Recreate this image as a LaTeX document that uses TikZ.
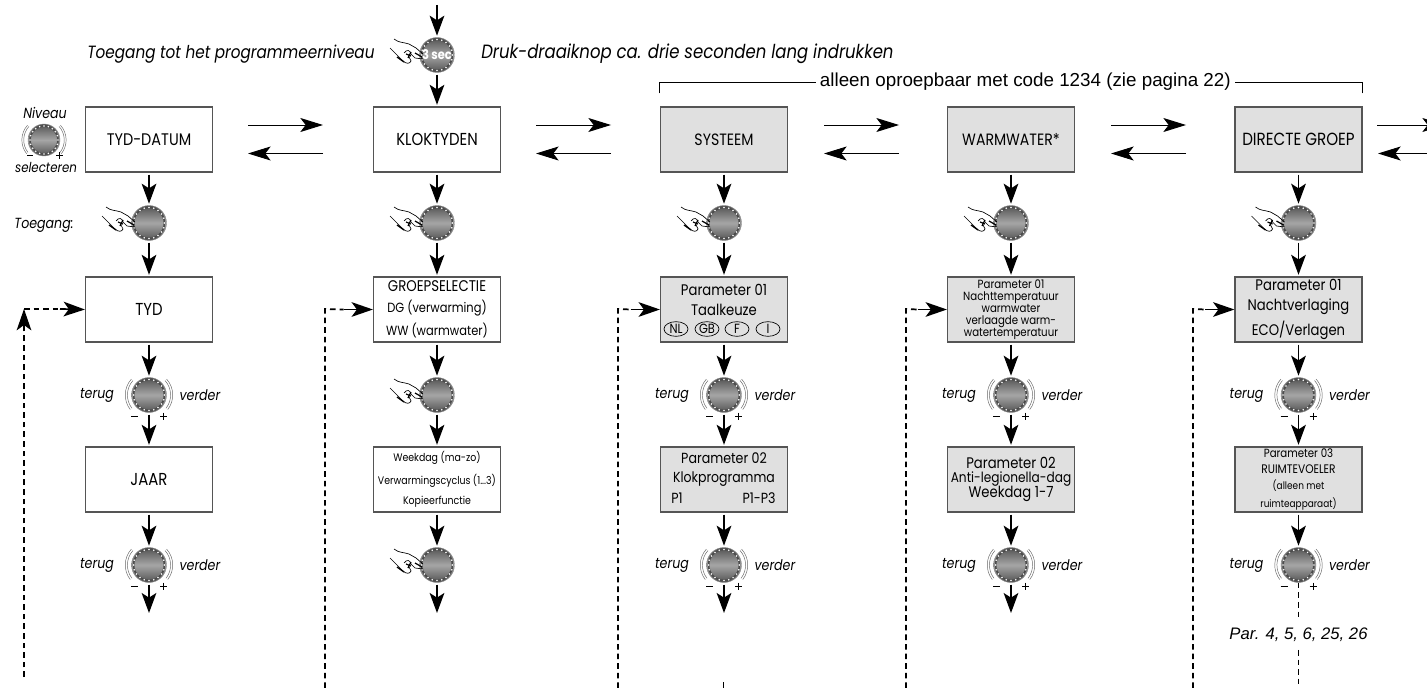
\documentclass[tikz,border=0pt]{standalone}
\usepackage{fontspec}
\setmainfont{Poppins}[FakeStretch=0.86]
\newfontfamily\arial{Liberation Sans}
\usetikzlibrary{arrows.meta,shapes.geometric}
\definecolor{boxgray}{HTML}{E0E0E0}
\definecolor{edgegray}{HTML}{555555}
\newcommand{\fs}[1]{\fontsize{#1}{#1}\selectfont}
\tikzset{
  flowbox/.style={draw=edgegray,line width=.9pt,minimum width=95.25pt,minimum height=48.75pt,inner sep=0pt,align=center,font=\fs{13}},
  greybox/.style={flowbox,fill=boxgray},
  knob/.style={circle,minimum size=26.25pt,inner sep=0pt,shade,top color=black!68,bottom color=black!68,middle color=black!35,draw=black!45,line width=.3pt},
  varrow/.style={line width=1.3pt,-{Stealth[length=15pt,width=11pt,inset=3.5pt]},shorten <=1.5pt,shorten >=1.2pt},
  harrow/.style={line width=.7pt,-{Stealth[length=17pt,width=10.5pt,inset=4pt]}},
  dasharrow/.style={line width=1.3pt,dash pattern=on 4.2pt off 3pt},
  dashhead/.style={line width=1.3pt,-{Stealth[length=16pt,width=11pt,inset=4pt]}},
  lab/.style={inner sep=0pt,font=\fs{11}\itshape},
  pill/.style={ellipse,draw,line width=.5pt,minimum width=18pt,minimum height=11pt,inner sep=0pt,font=\fs{10}},
}
\newcommand{\knobdeco}[2][11.6pt]{%
  \draw[black!70,line width=1.3pt] (#2.center) circle[radius=#1];
  \foreach \a in {0,18,...,342} \fill[white] ([shift={(\a:#1)}]#2.center) circle[radius=.65pt];
}
\newcommand{\hand}[1]{%
  \begin{scope}[shift={(#1.center)},line width=.5pt]
    \draw (-43,-16) .. controls (-38,-12) and (-34,-13) .. (-28,-11) -- (-21,-7) -- (-14,-1);
    \draw (-47,-7) -- (-41,-1) -- (-34,6) .. controls (-31,9) and (-27,9) .. (-26,6) -- (-28,2);
    \draw (-33,-2) .. controls (-30,-6) and (-27,-5) .. (-26,-1) -- (-22,3) -- (-14,4);
    \draw[line width=1pt] (-40,2) -- (-33,7);
    \draw[line width=.9pt] (-31,-1) -- (-26,1) (-29,3) -- (-26,-3) (-22,-2) -- (-15,2);
  \end{scope}
}
\newcommand{\turn}[1]{%
  \foreach \r in {16.2pt,17.8pt} {
    \draw[black!60,line width=.35pt] ([shift={(138:\r)}]#1.center) arc[start angle=138,end angle=218,radius=\r];
    \draw[black!60,line width=.35pt] ([shift={(42:\r)}]#1.center) arc[start angle=42,end angle=-38,radius=\r];
  }
  \draw[line width=.5pt] ([shift={(-18,21)}]#1.center) -- ++(7,0);
  \draw[line width=.5pt] ([shift={(11,21)}]#1.center) -- ++(7,0) ([shift={(14.5,17.5)}]#1.center) -- ++(0,7);
}
\begin{document}
\begin{tikzpicture}[x=.75pt,y=-.75pt]
\useasboundingbox (0,0) rectangle (1427,688);
\def\cA{149}\def\cB{437}\def\cC{724}\def\cD{1011}\def\cE{1298.5}

% ---- row 1 boxes
\node[flowbox,font=\fs{12.6}] (a1) at (\cA,139.5) {TYD-DATUM};
\node[flowbox] (b1) at (\cB,139.5) {KLOKTYDEN};
\node[greybox,font=\fs{12.3}] (c1) at (\cC,139.5) {SYSTEEM};
\node[greybox,font=\fs{12.3}] (d1) at (\cD,139.5) {WARMWATER*};
\node[greybox,font=\fs{13.2}] (e1) at (\cE,139.5) {DIRECTE GROEP};
% ---- row 2 boxes
\node[flowbox] (a2) at (\cA,309.5) {TYD};
\node[flowbox,font=\fs{11.6}] (b2) at (\cB,309.5) {GROEPSELECTIE\\[3.6pt]\fs{10}DG (verwarming)\\[4.6pt]\fs{10}WW (warmwater)};
\node[greybox] (c2) at (\cC,309.5) {};
\node[inner sep=0pt,font=\fs{11.5},align=center] (c2t) at (\cC,300) {Parameter 01\\[3.5pt]Taalkeuze};
\node[pill] (nl) at (676,329) {NL};
\node[pill] (gb) at (707,329) {GB};
\node[pill] (fr) at (737,329) {F};
\node[pill] (it) at (768,329) {I};
\node[greybox,font=\fs{8.9}] (d2) at (\cD,309.5) {Parameter 01\\Nachttemperatuur\\warmwater\\verlaagde warm-\\watertemperatuur};
\node[greybox,font=\fs{11.5}] (e2) at (\cE,309.5) {Parameter 01\\[3.9pt]Nachtverlaging\\[3.9pt]ECO/Verlagen};
% ---- row 3 boxes
\node[flowbox] (a3) at (\cA,479.5) {JAAR};
\node[flowbox,font=\fs{8.2}] (b3) at (\cB,479.5) {Weekdag (ma-zo)\\[5.8pt]Verwarmingscyclus (1...3)\\[5.8pt]Kopieerfunctie};
\node[greybox] (c3) at (\cC,479.5) {};
\node[inner sep=0pt,font=\fs{11},align=center] (c3t) at (\cC,469.5) {Parameter 02\\[3.3pt]\fs{10.9}Klokprogramma};
\node[inner sep=0pt,font=\fs{11}] (c3p) at (677,498) {P1};
\node[inner sep=0pt,font=\fs{11}] (c3q) at (759,498) {P1-P3};
\node[greybox,font=\fs{11.5}] (d3) at (\cD,479.5) {Parameter 02\\[-1pt]\fs{10.6}Anti-legionella-dag\\[0pt]\fs{11.5}Weekdag 1-7};
\node[greybox,font=\fs{8.9}] (e3) at (\cE,479.5) {Parameter 03\\[3.2pt]\fs{9.3}RUIMTEVOELER\\[3pt]\fs{7.8}(alleen met\\[4.4pt]\fs{7.8}ruimteapparaat)};

% ---- knobs
\foreach \n/\x in {a/\cA,b/\cB,c/\cC,d/\cD,e/\cE} {
  \node[knob] (\n k1) at (\x,223) {};
  \node[knob] (\n k2) at (\x,395) {};
  \node[knob] (\n k3) at (\x,565) {};
  \knobdeco{\n k1}\knobdeco{\n k2}\knobdeco{\n k3}
  \hand{\n k1}
  \draw[varrow] (\n1) -- (\n k1);
  \draw[varrow] (\n k1) -- (\n2);
  \draw[varrow] (\n2) -- (\n k2);
  \draw[varrow] (\n k2) -- (\n3);
  \draw[varrow] (\n3) -- (\n k3);
}
\hand{bk2}\hand{bk3}
\foreach \n in {a,c,d,e} {
  \turn{\n k2}\turn{\n k3}
  \node[lab] (\n tl2) at ([xshift=-39pt]\n k2.center) {terug};
  \node[lab] (\n vr2) at ([xshift=38.2pt]\n k2.center) {verder};
  \node[lab] (\n tl3) at ([xshift=-39pt]\n k3.center) {terug};
  \node[lab] (\n vr3) at ([xshift=38.2pt]\n k3.center) {verder};
}
% top knob
\node[knob] (top) at (\cB,55) {};
\knobdeco{top}
\hand{top}
\node[inner sep=0pt,text=white,font=\fs{10}\bfseries] (sec) at (\cB,55) {3 sec};
\coordinate (topin) at (\cB,5);
\draw[varrow,shorten <=0pt] (topin) -- (top);
\draw[varrow] (top) -- (b1);
% level knob
\node[knob,minimum size=24pt] (lv) at (44,140) {};
\knobdeco[10.5pt]{lv}
\foreach \r in {15.2pt,16.6pt} {
  \draw[black!60,line width=.35pt] ([shift={(138:\r)}]lv.center) arc[start angle=138,end angle=218,radius=\r];
  \draw[black!60,line width=.35pt] ([shift={(42:\r)}]lv.center) arc[start angle=42,end angle=-38,radius=\r];
}
\draw[line width=.5pt] ([shift={(-17,15.5)}]lv.center) -- ++(6,0) ([shift={(12,15.5)}]lv.center) -- ++(7,0) ([shift={(15.5,12)}]lv.center) -- ++(0,7);
\node[lab] (niv) at (45,113) {Niveau};
\node[lab,font=\fs{10.3}\itshape] (sel) at (46,167) {selecteren};
\node[lab] (toeg) at (44,225) {Toegang:};
% top labels
\node[lab,font=\fs{13.3}\itshape] (t1) at (231,54) {Toegang tot het programmeerniveau};
\node[lab,font=\fs{14.4}\itshape,anchor=west] (t2) at (481,54) {Druk-draaiknop ca. drie seconden lang indrukken};
% bracket
\node[inner sep=0pt,font=\arial\fs{14.1},anchor=east] (code) at (1231,82) {alleen oproepbaar met code 1234 (zie pagina 22)};
\draw[line width=.7pt] (c1.north west) ++(0,-13) |- ([xshift=-3pt]code.west);
\draw[line width=.7pt] (e1.north east) ++(0,-13) |- ([xshift=3pt]code.east);
% horizontal arrows
\foreach \f/\t/\u in {248/323/a,536/611/b,824/899/c,1111/1186/d} {
  \coordinate (r\u) at (\f,125); \coordinate (s\u) at (\t,125);
  \coordinate (p\u) at (\t,153.5); \coordinate (q\u) at (\f,153.5);
  \draw[harrow] (r\u) -- (s\u);
  \draw[harrow] (p\u) -- (q\u);
}
\coordinate (re) at (1377,125); \coordinate (se) at (1445,125);
\coordinate (pe) at (1427,153.5); \coordinate (qe) at (1378,153.5);
\begin{scope}
\clip (0,0) rectangle (1427,688);
\draw[harrow] (re) -- (se);
\end{scope}
\draw[harrow] (pe) -- (qe);
% dashed return lines
\coordinate (fa) at (24,677); \coordinate (ca) at (24,309);
\draw[dasharrow] (fa) -- (24,330);
\draw[dashhead] (24,331) -- (ca);
\draw[dasharrow] (ca) -- (60,309);
\draw[dashhead] (60,309) -- (a2.west);
\foreach \x/\n in {325/b,618/c,906/d,1193/e} {
  \coordinate (f\n) at (\x,688);
  \coordinate (g\n) at (\x,309);
  \draw[dasharrow] (f\n) -- (g\n) -- ([xshift=-22pt]\n2.west);
  \draw[dashhead] ([xshift=-22pt]\n2.west) -- (\n2.west);
}
% final dashed and stubs
\node[inner sep=0pt,minimum height=22pt,font=\arial\itshape\fs{12.5}] (par) at (\cE,635) {Par. 4, 5, 6, 25, 26};
\coordinate (eo) at (\cE,688);
\draw[dasharrow] (ek3) -- (par);
\draw[dasharrow] (par) -- (eo);
\coordinate (ci) at (723,682); \coordinate (cj) at (723,688);
\draw[line width=.6pt] (ci) -- (cj);
% arrows below bottom knobs
\foreach \n/\x in {a/\cA,b/\cB,c/\cC,d/\cD} {
  \coordinate (\n end) at (\x,613);
  \draw[varrow,shorten >=0pt] (\n k3) -- (\n end);
}
\end{tikzpicture}
\end{document}
